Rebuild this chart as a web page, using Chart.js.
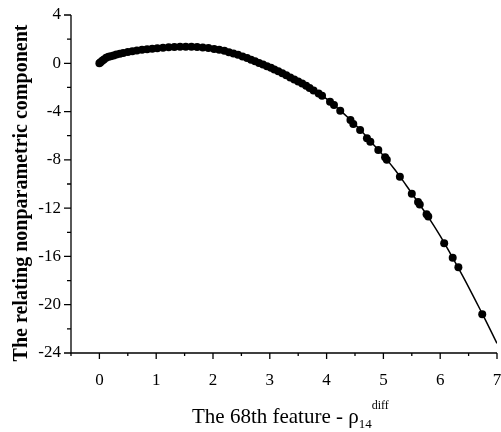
<!DOCTYPE html>
<html>
<head>
<meta charset="utf-8">
<script src="https://cdn.jsdelivr.net/npm/chart.js@4"></script>
<style>
  html, body { margin: 0; padding: 0; background: #fff; }
  canvas { display: block; }
</style>
</head>
<body>
<canvas id="featureChart" width="501" height="432"></canvas>
<script>
// fitted curve (line)
const CURVE_X = [0, 0.03, 0.06, 0.1, 0.15, 0.2, 0.3, 0.4, 0.5, 0.6, 0.7, 0.8, 0.9, 1.0, 1.1, 1.2, 1.3, 1.4, 1.5, 1.6, 1.7, 1.8, 1.9, 2.0,
  2.1, 2.2, 2.3, 2.4, 2.5, 2.6, 2.7, 2.8, 2.9, 3.0, 3.1, 3.2, 3.3, 3.4, 3.5, 3.6, 3.7, 3.8, 3.9, 4.0, 4.2, 4.4, 4.6, 4.8,
  5.0, 5.2, 5.4, 5.6, 5.8, 6.0, 6.2, 6.4, 6.6, 6.8, 7.0];
const CURVE_Y = [0, 0.12, 0.25, 0.38, 0.5, 0.58, 0.72, 0.84, 0.94, 1.02, 1.09, 1.15, 1.2, 1.25, 1.29, 1.32, 1.35, 1.37, 1.38, 1.37, 1.35, 1.31, 1.26, 1.2,
  1.12, 1.02, 0.9, 0.76, 0.6, 0.43, 0.24, 0.05, -0.12, -0.32, -0.53, -0.76, -1.0, -1.24, -1.5, -1.76, -2.05, -2.33, -2.63, -2.95, -3.75, -4.6, -5.55, -6.6,
  -7.65, -8.8, -10.1, -11.45, -12.8, -14.3, -15.95, -17.65, -19.45, -21.3, -23.2];

// observed points (dots)
const DOT_X = [0, 0.02, 0.05, 0.08, 0.12, 0.16, 0.2, 0.25, 0.3, 0.36, 0.42, 0.5, 0.58, 0.66, 0.75, 0.84, 0.93, 1.02, 1.12, 1.22, 1.32, 1.42,
  1.52, 1.62, 1.72, 1.82, 1.92, 2.02, 2.11, 2.2, 2.28, 2.36, 2.44, 2.52, 2.6, 2.67, 2.74, 2.81, 2.88, 2.95, 3.02, 3.08, 3.15, 3.22,
  3.29, 3.36, 3.43, 3.5, 3.57, 3.64, 3.7, 3.77, 3.86, 3.92, 4.06, 4.13, 4.24, 4.42, 4.47, 4.59, 4.71, 4.77, 4.91, 5.03, 5.06,
  5.29, 5.5, 5.61, 5.64, 5.76, 5.79, 6.07, 6.22, 6.32, 6.74];
const DOT_Y = [0, 0.08, 0.2, 0.32, 0.46, 0.54, 0.58, 0.65, 0.72, 0.79, 0.85, 0.94, 1.0, 1.06, 1.12, 1.17, 1.21, 1.25, 1.29, 1.32, 1.35, 1.37,
  1.38, 1.37, 1.35, 1.31, 1.26, 1.19, 1.12, 1.03, 0.92, 0.82, 0.7, 0.57, 0.43, 0.3, 0.17, 0.02, -0.1, -0.24, -0.38, -0.51, -0.67, -0.83,
  -1.0, -1.17, -1.34, -1.5, -1.68, -1.87, -2.05, -2.25, -2.5, -2.69, -3.18, -3.46, -3.93, -4.7, -5.03, -5.53, -6.21, -6.5, -7.18, -7.79, -8.0,
  -9.4, -10.8, -11.5, -11.7, -12.5, -12.7, -14.9, -16.1, -16.9, -20.8];

const X_TICKS = [0, 1, 2, 3, 4, 5, 6, 7];
const Y_TICKS = [-24, -20, -16, -12, -8, -4, 0, 4];

const serif = '"Liberation Serif", "Times New Roman", serif';

const axisDecor = {
  id: 'axisDecor',
  afterDraw(chart) {
    const ctx = chart.ctx;
    const xs = chart.scales.x, ys = chart.scales.y;
    const area = chart.chartArea;
    ctx.save();
    ctx.strokeStyle = '#000';
    ctx.lineWidth = 1.3;
    // axis lines
    ctx.beginPath();
    ctx.moveTo(area.left, area.top);
    ctx.lineTo(area.left, area.bottom);
    ctx.lineTo(area.right, area.bottom);
    ctx.stroke();
    // x ticks (major every 1, minor every 0.5)
    ctx.beginPath();
    for (let v = -0.5; v <= 7.001; v += 0.5) {
      const px = xs.getPixelForValue(v);
      const major = Math.abs(v - Math.round(v)) < 1e-6;
      ctx.moveTo(px, area.bottom);
      ctx.lineTo(px, area.bottom + (major ? 6 : 3));
    }
    // y ticks (major every 4, minor every 2)
    for (let v = -24; v <= 4; v += 2) {
      const py = ys.getPixelForValue(v);
      const major = v % 4 === 0;
      ctx.moveTo(area.left, py);
      ctx.lineTo(area.left - (major ? 7 : 4), py);
    }
    ctx.stroke();

    ctx.fillStyle = '#000';
    // x title with subscript / superscript
    ctx.font = '21px ' + serif;
    ctx.textBaseline = 'alphabetic';
    ctx.textAlign = 'left';
    const main = 'The 68th feature - \u03c1';
    let tx = 192, ty = 423;
    ctx.fillText(main, tx, ty);
    tx += ctx.measureText(main).width;
    ctx.font = '13px ' + serif;
    ctx.fillText('14', tx, ty + 5);
    ctx.font = '12px ' + serif;
    ctx.fillText('diff', tx + 13, ty - 14);

    // y title
    ctx.translate(22, 193);
    ctx.rotate(-Math.PI / 2);
    ctx.font = 'bold 20px ' + serif;
    ctx.textAlign = 'center';
    ctx.textBaseline = 'middle';
    ctx.fillText('The relating nonparametric component', 0, 0);
    ctx.restore();
  }
};

new Chart(document.getElementById('featureChart'), {
  type: 'scatter',
  data: {
    datasets: [
      {
        label: 'curve',
        data: CURVE_X.map((x, i) => ({ x: x, y: CURVE_Y[i] })),
        showLine: true,
        borderColor: '#000',
        borderWidth: 1.5,
        pointRadius: 0,
        tension: 0.4,
        order: 2
      },
      {
        label: 'points',
        data: DOT_X.map((x, i) => ({ x: x, y: DOT_Y[i] })),
        backgroundColor: '#000',
        borderColor: '#000',
        pointRadius: 4,
        borderWidth: 0,
        order: 1
      }
    ]
  },
  options: {
    responsive: false,
    animation: false,
    layout: { padding: { top: 15, right: 1, left: 0, bottom: 0 } },
    plugins: {
      legend: { display: false },
      tooltip: { enabled: false }
    },
    scales: {
      x: {
        type: 'linear',
        min: -0.5,
        max: 7,
        afterBuildTicks: (s) => { s.ticks = X_TICKS.map(v => ({ value: v })); },
        afterFit: (s) => { s.height = 79; s.paddingLeft = 0; s.paddingRight = 0; },
        grid: { display: false, drawTicks: false },
        border: { display: false },
        ticks: { color: '#000', padding: 17, maxRotation: 0, font: { family: serif, size: 17 } }
      },
      y: {
        min: -24,
        max: 4,
        afterBuildTicks: (s) => { s.ticks = Y_TICKS.map(v => ({ value: v })); },
        afterFit: (s) => { s.width = 71; s.paddingTop = 0; s.paddingBottom = 0; },
        grid: { display: false, drawTicks: false },
        border: { display: false },
        ticks: { color: '#000', padding: 10, font: { family: serif, size: 17 } }
      }
    }
  },
  plugins: [axisDecor]
});
</script>
</body>
</html>
